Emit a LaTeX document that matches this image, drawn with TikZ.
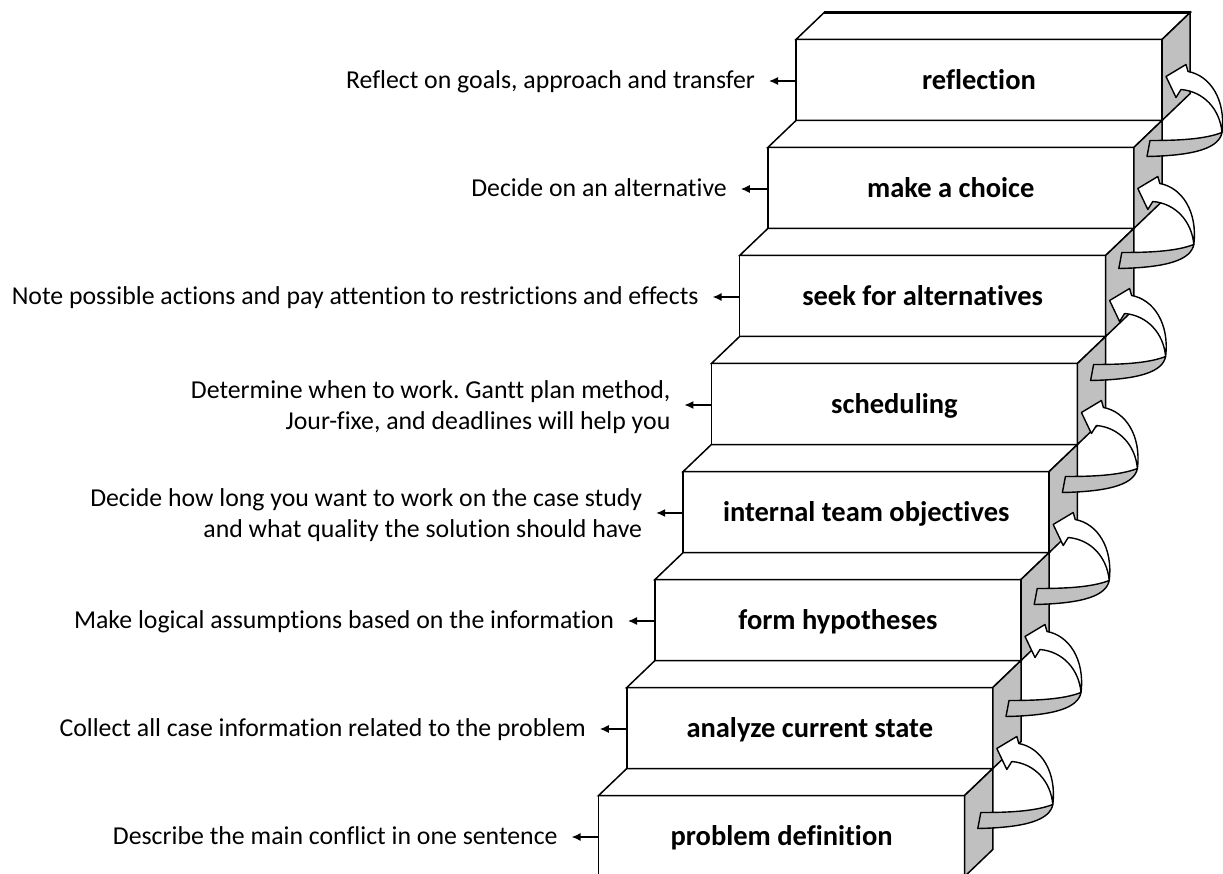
\documentclass[tikz,border=0pt]{standalone}
\usepackage{fontspec}
\setmainfont{Carlito}[Ligatures=CommonOff]
\usetikzlibrary{arrows.meta,calc}
\definecolor{sidegrey}{RGB}{192,192,192}
\frenchspacing
\tikzset{
  stepbox/.style={draw, line width=1.5pt, fill=white, minimum width=366pt, minimum height=81pt,
    inner sep=0pt, outer sep=0pt, anchor=north west,
    font=\fontsize{28.5}{34}\selectfont\bfseries, text height=21pt, text depth=2pt},
  topface/.style={draw, line width=1.5pt, fill=white},
  sideface/.style={draw, line width=1.5pt, fill=sidegrey},
  desc/.style={inner sep=0pt, outer sep=0pt, font=\fontsize{25.8}{31}\selectfont\frenchspacing, align=right},
  descarrow/.style={line width=1.3pt, -{Latex[length=9pt,width=8pt]}},
  ribbonback/.style={draw, line width=1.4pt, fill=sidegrey, line join=round},
  ribbonfront/.style={draw, line width=1.4pt, fill=white, line join=round},
}
\begin{document}
\begin{tikzpicture}[x=1pt,y=-1pt]
\useasboundingbox (0,0) rectangle (1223,874);
\foreach \k/\lab in {0/reflection,1/make a choice,2/seek for alternatives,3/scheduling,
  4/internal team objectives,5/form hypotheses,6/analyze current state,7/problem definition}{
  \pgfmathsetmacro\L{796-28.2*\k}
  \pgfmathsetmacro\T{39.5+108*\k}
  \node[stepbox] (s\k) at (\L,\T) {\lab};
  \draw[topface] (s\k.north west) -- ++(28.2,-27) -- ++(366,0) -- (s\k.north east) -- cycle;
  \draw[sideface] (s\k.north east) -- ++(28.2,-27) -- ++(0,81) -- (s\k.south east) -- cycle;
  \coordinate (t\k) at ($(s\k.west)+(-27,1)$);
  \draw[descarrow] (s\k.west |- t\k) -- (t\k);
}
\draw[line width=2.6pt] ($(s0.north west)+(28.2,-27)$) -- ($(s0.north east)+(28.2,-27)$);
\foreach \k/\txt in {0/{Reflect on goals, approach and transfer},
  1/{Decide on an alternative},
  2/{Note possible actions and pay attention to restrictions and effects},
  5/{Make logical assumptions based on the information},
  6/{Collect all case information related to the problem},
  7/{Describe the main conflict in one sentence}}{
  \node[desc, anchor=base east] (d\k) at ($(t\k)+(-14,7.5)$) {\txt};
}
\node[desc, anchor=east] (d3) at ($(t3)+(-14,2.5)$) {Determine when to work. Gantt plan method,\\Jour-fixe, and deadlines will help you};
\node[desc, anchor=east] (d4) at ($(t4)+(-14,2.5)$) {Decide how long you want to work on the case study\\and what quality the solution should have};
\foreach \k in {0,...,6}{
  \begin{scope}[shift={($(s\k.north east)+(0,4*\k)$)}]
    \draw[ribbonback] (60,93) .. controls (57,108) and (35,116) .. (-15,117) -- (-12,101)
      .. controls (15,101) and (42,100) .. (60,93) -- cycle;
    \draw[ribbonfront] (26,32) -- (24,25) -- (4,37) -- (14,58) -- (19,50)
      .. controls (42,52) and (58,70) .. (60,93)
      .. controls (64,60) and (48,36) .. (26,32) -- cycle;
  \end{scope}
}
\end{tikzpicture}
\end{document}
